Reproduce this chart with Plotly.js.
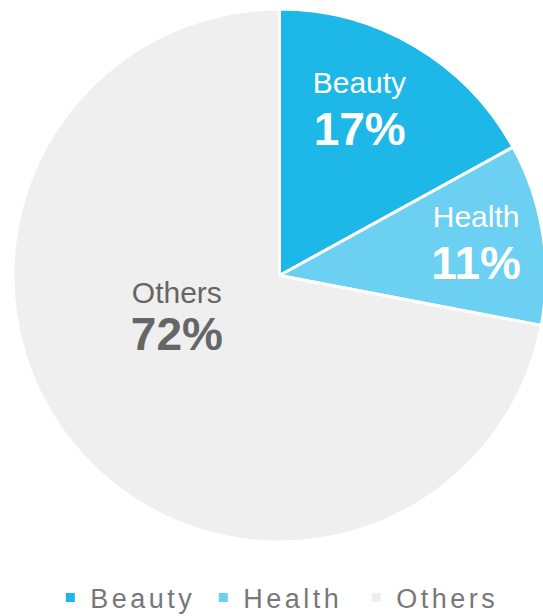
<!DOCTYPE html>
<html>
<head>
<meta charset="utf-8">
<script src="https://cdn.plot.ly/plotly-3.0.1.min.js"></script>
<style>
html, body { margin: 0; padding: 0; overflow: hidden; background: #fff; }
#chart { width: 559px; height: 616px; }
</style>
</head>
<body>
<div id="chart"></div>
<script>
const categories = ["Beauty", "Health", "Others"];
const shares = [17, 11, 72];
const sliceColors = ["#1db7e8", "#6bd0f2", "#efefef"];
const textColors = ["#ffffff", "#ffffff", "#666666"];

// label text: category name on top, bold percentage below
const labelLine = "<span style='font-size:30px'>%{label}</span>";
const pctLine = "<span style='font-size:46px'><b>%{percent:.0%}</b></span>";
// invisible padding glyphs used only to nudge where the text block sits
const ghost = function (size, ch) {
  return "<span style='font-size:" + size + "px;color:rgba(0,0,0,0)'>" + ch + "</span>";
};
const templates = [
  labelLine + ghost(12, "MM") + "<br>" + pctLine + "<span style='font-size:100px;color:rgba(0,0,0,0)'><sub>.</sub></span>",
  labelLine + "<br>" + pctLine,
  labelLine + "<br>" + pctLine + "<br> <br>" + ghost(10, ".")
];

const trace = {
  type: "pie",
  labels: categories,
  values: shares,
  sort: false,
  direction: "clockwise",
  rotation: 0,
  marker: { colors: sliceColors, line: { color: "#ffffff", width: 3 } },
  texttemplate: templates,
  textposition: "inside",
  insidetextorientation: "horizontal",
  textfont: { family: "Liberation Sans, Arial, sans-serif", size: [40, 40, 36], color: textColors },
  hoverinfo: "none",
  domain: { x: [0, 1], y: [1 - 542 / 616, 1 - 9 / 616] }
};

const layout = {
  width: 559,
  height: 616,
  margin: { l: 0, r: 0, t: 0, b: 0, autoexpand: false },
  paper_bgcolor: "#ffffff",
  showlegend: true,
  legend: {
    orientation: "h",
    x: 0.09, xanchor: "left",
    y: 1 - 598 / 616, yanchor: "middle",
    bgcolor: "rgba(0,0,0,0)",
    font: { family: "Liberation Sans, Arial, sans-serif", size: 27, color: "#777777" },
    entrywidth: 108,
    entrywidthmode: "pixels",
    traceorder: "normal"
  }
};

Plotly.newPlot("chart", [trace], layout, { displayModeBar: false, staticPlot: true }).then(function () {
  document.querySelectorAll(".legendtext").forEach(function (t) {
    t.style.letterSpacing = "3.5px";
  });
});
</script>
</body>
</html>
